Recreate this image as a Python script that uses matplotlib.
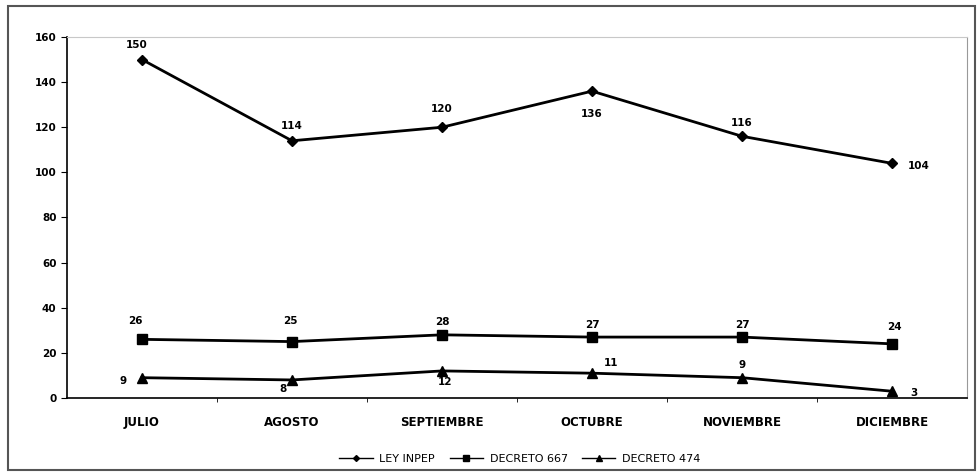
import matplotlib
matplotlib.use('Agg')
import matplotlib.pyplot as plt
from matplotlib.patches import Rectangle

plt.rcParams['font.family'] = ['DejaVu Sans']

# data
meses = ['JULIO', 'AGOSTO', 'SEPTIEMBRE', 'OCTUBRE', 'NOVIEMBRE', 'DICIEMBRE']
ley_inpep = [150, 114, 120, 136, 116, 104]
decreto_667 = [26, 25, 28, 27, 27, 24]
decreto_474 = [9, 8, 12, 11, 9, 3]

# where each value label goes relative to its point (dx, dy in points)
pos_inpep = [(-4, 10.5), (0, 10.5), (0, 13), (0, -16.5), (0, 9.5), (19, -2)]
pos_667 = [(-5, 13), (-1.5, 15), (0.5, 9), (0, 9), (0, 9), (1.5, 12)]
pos_474 = [(-13.5, -2.5), (-6.5, -6.7), (2, -8.3), (14, 7), (0, 9), (15.5, -1.5)]

fig = plt.figure(figsize=(9.77, 4.74), dpi=100)
ax = fig.add_axes([67/977, 1-398/474, 900/977, 361/474])

x = list(range(len(meses)))
ax.plot(x, ley_inpep, color='black', lw=2, marker='D', ms=5, label='LEY INPEP')
ax.plot(x, decreto_667, color='black', lw=2, marker='s', ms=7, label='DECRETO 667')
ax.plot(x, decreto_474, color='black', lw=2, marker='^', ms=7, label='DECRETO 474')

for serie, pos in [(ley_inpep, pos_inpep), (decreto_667, pos_667), (decreto_474, pos_474)]:
    for i, v in enumerate(serie):
        ax.annotate(str(v), (i, v), xytext=pos[i], textcoords='offset points',
                    ha='center', va='center', fontsize=7.5, fontweight='bold')

ax.set_xlim(-0.5, len(meses) - 0.5)
ax.set_ylim(0, 160)
ax.set_yticks(range(0, 161, 20))
ax.set_xticks(x)
ax.set_xticklabels(meses)
ax.set_xticks([i + 0.5 for i in x[:-1]], minor=True)
ax.tick_params(axis='x', which='major', length=0, pad=13)
ax.tick_params(axis='x', which='minor', length=3, direction='out')
ax.tick_params(axis='y', length=4, direction='out')
for lab in ax.get_xticklabels():
    lab.set_fontsize(8.5)
    lab.set_fontweight('bold')
for lab in ax.get_yticklabels():
    lab.set_fontsize(7.5)
    lab.set_fontweight('bold')

ax.spines['top'].set_color('#c8c8c8')
ax.spines['right'].set_color('#999999')
ax.spines['right'].set_linewidth(0.8)
ax.spines['left'].set_linewidth(1.2)
ax.spines['bottom'].set_linewidth(1.2)

fig.legend(loc='center', bbox_to_anchor=(520/977, 1-459/474), ncol=3, frameon=False,
           fontsize=8, handlelength=3, handletextpad=0.6, markerscale=0.6, columnspacing=1.3)
for h in fig.legends[0].get_lines():
    h.set_linewidth(1)

fig.patches.append(Rectangle((8/977, 4/474), 967/977, 464/474, transform=fig.transFigure,
                             fill=False, edgecolor='#555555', lw=1.5))

fig.savefig('out.png', dpi=100)
